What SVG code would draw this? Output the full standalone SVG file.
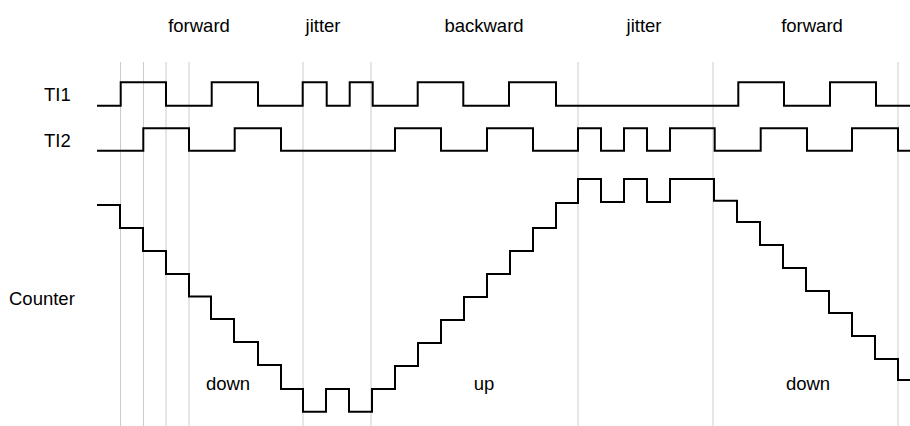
<svg xmlns="http://www.w3.org/2000/svg" width="910" height="426" viewBox="0 0 910 426">
<style>
.t{font-family:"Liberation Sans",Arial,sans-serif;font-size:18.5px;fill:#000}
.m{text-anchor:middle}
.g{stroke:#cccccc;stroke-width:1;fill:none}
.w{stroke:#000;stroke-width:2;fill:none}
</style>
<rect width="910" height="426" fill="#fff"/>
<g id="grid">
<path class="g" d="M120.5,62V426M143.5,62V426M166,62V426M189,62V426M303,62V426M371,62V426M578,62V426M713,62V426M898,62V426"/>
</g>
<g id="labels">
<text class="t m" x="199" y="32">forward</text>
<text class="t m" x="323" y="32">jitter</text>
<text class="t m" x="484" y="32">backward</text>
<text class="t m" x="644" y="32">jitter</text>
<text class="t m" x="812" y="32">forward</text>
<text class="t" x="44" y="101">TI1</text>
<text class="t" x="44" y="147">TI2</text>
<text class="t" x="9" y="305">Counter</text>
<text class="t m" x="228" y="390">down</text>
<text class="t m" x="484" y="390">up</text>
<text class="t m" x="808" y="390">down</text>
</g>
<g id="connectors">
<path id="ti1" class="w" d="M97,105.7 H120.7 V82.3 H166 V105.7 H211.7 V82.3 H258 V105.7 H302.7 V82.3 H326.7 V105.7 H349.7 V82.3 H372.7 V105.7 H417.7 V82.3 H463.3 V105.7 H509 V82.3 H556 V105.7 H738.3 V82.3 H784 V105.7 H830 V82.3 H876 V105.7 H910"/>
<path id="ti2" class="w" d="M97,150.7 H143.3 V128.3 H189 V150.7 H234.7 V128.3 H281 V150.7 H395 V128.3 H441 V150.7 H487 V128.3 H533 V150.7 H578 V128.3 H601 V150.7 H624 V128.3 H647 V150.7 H670 V128.3 H714.7 V150.7 H760.7 V128.3 H807 V150.7 H852 V128.3 H898 V150.7 H910"/>
<path id="counter" class="w" d="M97,205 H120 V228 H143 V251 H166 V274 H189 V296.5 H211 V319 H234 V342 H258 V365 H281 V389 H303 V411.7 H326 V389 H349 V411.7 H372 V389 H395 V366 H418 V343 H441 V320 H464 V297 H487 V274 H510 V251 H533 V228 H556 V203 H578 V179 H601 V202 H624 V179 H647 V202 H670 V179 H714 V200.7 H737 V222 H760 V245 H783 V268 H806 V291 H829 V313 H852 V336 H875 V359 H898 V380 H910"/>
</g>
</svg>
